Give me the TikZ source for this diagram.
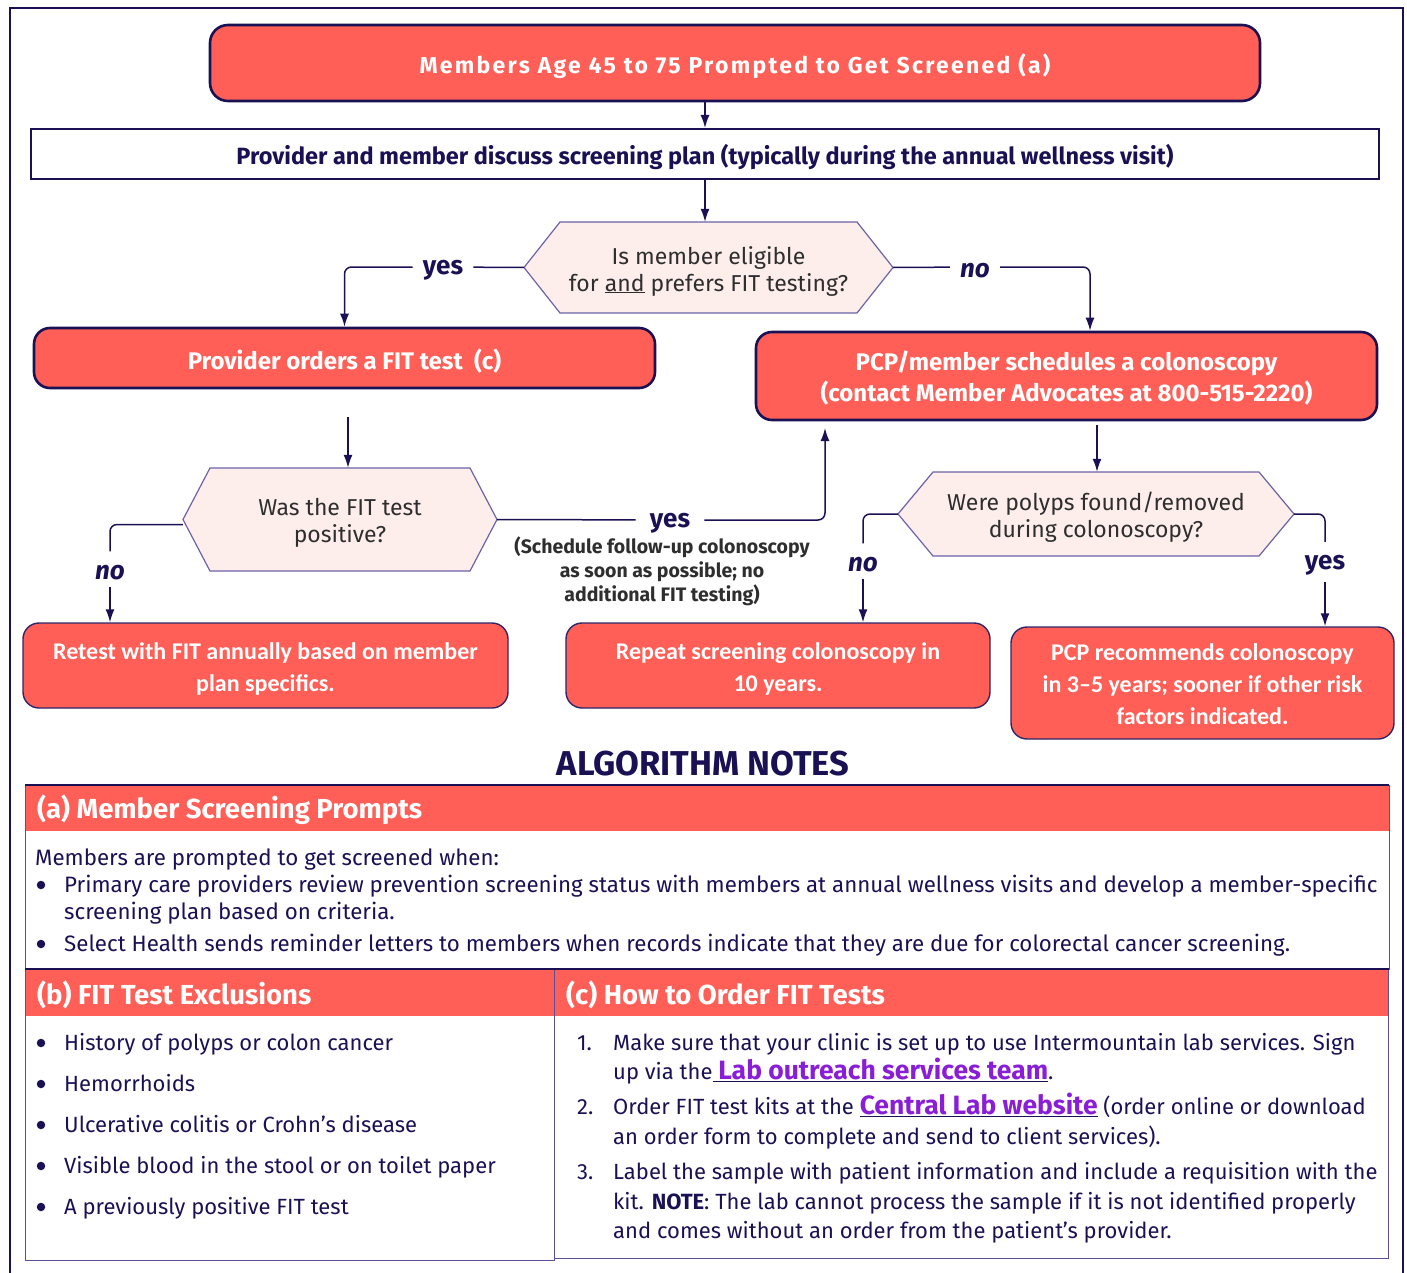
\documentclass[tikz,border=0pt]{standalone}
\usepackage{fontspec}
\setmainfont{Fira Sans}
\newfontfamily\spacedfont{Fira Sans}[LetterSpace=10]
\newfontfamily\carlito{Carlito}
\usetikzlibrary{arrows.meta,calc}
\definecolor{navy}{HTML}{1A1155}
\definecolor{cred}{HTML}{FF5F57}
\definecolor{hexfill}{HTML}{FDEEEC}
\definecolor{hexline}{HTML}{6B63A6}
\definecolor{notegray}{HTML}{2E2E2E}
\definecolor{link}{HTML}{8A1ED6}
\definecolor{rulec}{HTML}{5B4F9A}
\newcommand\lowered[1]{\raisebox{-3.5pt}[\height][\depth]{#1}}
% name, cx, cy, half width, half height, inset, text
\newcommand\hexnode[7]{%
  \draw[hexline, fill=hexfill, line width=1.2]
    (#2-#4,#3) -- (#2-#4+#6,#3-#5) -- (#2+#4-#6,#3-#5) -- (#2+#4,#3)
    -- (#2+#4-#6,#3+#5) -- (#2-#4+#6,#3+#5) -- cycle;
  \node[inner sep=0, minimum width=2*#4, minimum height=2*#5] (#1) at (#2,#3) {};
  \node[hextext, yshift=-3.5pt] (#1-t) at (#1.center) {#7};}
\begin{document}
\begin{tikzpicture}[x=1pt,y=-1pt,
  redbox/.style={draw=navy, fill=cred, rounded corners=16, line width=2.6, inner sep=0},
  lowbox/.style={draw=navy!75!hexline, fill=cred, rounded corners=16, line width=1.4, inner sep=0},
  wtext/.style={inner sep=0, align=center, text=white, yshift=-3pt},
  lowtext/.style={wtext, font=\carlito\bfseries\fontsize{24}{32}\selectfont},
  hextext/.style={inner sep=0, align=center, text=notegray, font=\fontsize{23}{27}\selectfont},
  conn/.style={draw=navy, line width=1.5},
  arr/.style={conn, -{Latex[length=13,width=9]}},
  lab/.style={font=\fontsize{26}{26}\selectfont\bfseries, text=navy, inner xsep=10, inner ysep=3},
  labi/.style={lab, font=\fontsize{26}{26}\selectfont\bfseries\itshape},
  txt/.style={anchor=base west, inner sep=0, text=navy, font=\fontsize{22}{27}\selectfont},
  txta/.style={txt, font=\fontsize{22.3}{27}\selectfont},
  dot/.style={circle, fill=navy, inner sep=0, minimum size=8.5},
  head/.style={anchor=west, inner sep=0, text=white, font=\bfseries\fontsize{27.5}{30}\selectfont}
]
\useasboundingbox (0,0) rectangle (1407,1273);
% outer frame
\draw[navy, line width=2] (10,1300) -- (10,8) -- (1403,8) -- (1403,1300);

% top box
\node[redbox, minimum width=1050, minimum height=76, rounded corners=18] (top) at (735,63) {};
\node[wtext, font=\spacedfont\bfseries\fontsize{23}{28}\selectfont] (top-t) at (top.center)
  {Members Age 45 to 75 Prompted to Get Screened (a)};
% discuss box
\node[draw=navy, line width=2, fill=white, minimum width=1348, minimum height=50, inner sep=0] (plan) at (705,154) {};
\node[wtext, text=navy, font=\bfseries\fontsize{23.5}{27}\selectfont] (plan-t) at (plan.center)
  {Provider and member discuss screening plan (typically during the annual wellness visit)};
\draw[arr] (top.south -| plan.north) -- (plan.north);

% decision 1
\hexnode{h1}{708.5}{267.5}{184.5}{45.5}{36}{Is member eligible\\for \underline{and} prefers FIT testing?}
\draw[arr] (plan.south) -- (plan.south |- h1.north);

\node[redbox, minimum width=621, minimum height=60] (b3) at (344.5,358) {};
\node[wtext, font=\bfseries\fontsize{24}{27}\selectfont] (b3-t) at (b3.center) {Provider orders a FIT test\ \ (c)};
\node[redbox, minimum width=621, minimum height=88] (b4) at (1066.5,376) {};
\node[wtext, yshift=1pt, font=\bfseries\fontsize{24}{31}\selectfont] (b4-t) at (b4.center)
  {PCP/member schedules a colonoscopy\\(contact Member Advocates at 800-515-2220)};

\node[lab] (yes1) at (443,267) {\lowered{yes}};
\node[labi] (no1) at (975,267) {\lowered{no}};
\coordinate (c4) at (1090,0);
\draw[conn] (h1.west) -- (yes1);
\draw[arr, rounded corners=7] (yes1) -| (b3.north);
\draw[conn] (h1.east) -- (no1);
\draw[arr, rounded corners=7] (no1) -| (c4 |- b4.north);

% decision 2
\hexnode{h2}{340}{519.5}{157}{51.5}{27}{Was the FIT test\\positive?}
\coordinate (s3) at (348,417);
\draw[arr] (s3) -- (s3 |- h2.north);

% decision 3
\hexnode{h3}{1096}{514}{198}{42}{35}{Were polyps found/removed\\during colonoscopy?}
\coordinate (s4) at (1097,425);
\draw[arr] (s4) -- (s4 |- h3.north);

% bottom boxes
\node[lowbox, minimum width=485, minimum height=85] (b5) at (265.5,665.5) {};
\node[lowtext] (b5-t) at (b5.center) {Retest with FIT annually based on member\\plan specifics.};
\node[lowbox, minimum width=424, minimum height=85] (b6) at (778,665.5) {};
\node[lowtext] (b6-t) at (b6.center) {Repeat screening colonoscopy in\\10 years.};
\node[lowbox, minimum width=383, minimum height=112] (b7) at (1202.5,683) {};
\node[lowtext, yshift=2pt] (b7-t) at (b7.center) {PCP recommends colonoscopy\\in 3–5 years; sooner if other risk\\factors indicated.};

% FIT positive branches
\node[labi, inner xsep=4, inner ysep=10] (no2) at (110,569) {\lowered{no}};
\draw[conn, rounded corners=7] (h2.west) ++(0,5) -| (no2);
\draw[arr] (no2) -- (no2 |- b5.north);
\node[lab, inner xsep=14] (yes2) at (670,520) {\lowered{yes}};
\coordinate (e4) at (825,428);
\draw[conn] (h2.east) -- (yes2);
\draw[arr, rounded corners=7] (yes2) -| (e4);
\node[inner sep=0, align=center, text=notegray, font=\bfseries\fontsize{19.5}{24}\selectfont] (fu) at (662,571)
  {(Schedule follow-up colonoscopy\\as soon as possible; no\\additional FIT testing)};

% polyps branches
\node[labi, inner xsep=4, inner ysep=10] (no3) at (863,561) {\lowered{no}};
\draw[conn, rounded corners=7] (h3.west) -| (no3);
\draw[arr] (no3) -- (no3 |- b6.north);
\node[lab, inner xsep=4, inner ysep=10] (yes3) at (1325,562) {\lowered{yes}};
\draw[conn, rounded corners=7] (h3.east) -| (yes3);
\draw[arr] (yes3) -- (yes3 |- b7.north);

% ===== Algorithm notes =====
\node[inner sep=0, text=navy, font=\bfseries\fontsize{34.5}{38}\selectfont] (notes) at (703,764) {ALGORITHM NOTES};

\fill[cred] (25,785) rectangle (1389,831);
\draw[rulec, line width=1] (25,785) rectangle (1389,969);
\fill[cred] (25,969) rectangle (1389,1016);
\draw[rulec, line width=1] (25,969) rectangle (554,1260);
\draw[rulec, line width=1] (554,969) rectangle (1388,1258);
\draw[navy, line width=2] (25,785) -- (1389,785);
\draw[navy, line width=2] (25,969) -- (1389,969);

\node[head] (ha) at (37,810) {(a) Member Screening Prompts};
\node[head] (hb) at (37,995) {(b) FIT Test Exclusions};
\node[head] (hc) at (566,995) {(c) How to Order FIT Tests};

% (a) body
\node[txta] (a0) at (35,865) {Members are prompted to get screened when:};
\node[dot] (a1b) at (41,885) {};
\node[txta] (a1) at (64,892) {Primary care providers review prevention screening status with members at annual wellness visits and develop a member-specific};
\node[txta] (a2) at (64,919) {screening plan based on criteria.};
\node[dot] (a3b) at (41,944) {};
\node[txta] (a3) at (64,951) {Select Health sends reminder letters to members when records indicate that they are due for colorectal cancer screening.};

% (b) body
\foreach \yy/\tt [count=\i] in {1050/History of polyps or colon cancer, 1091/Hemorrhoids,
   1132/Ulcerative colitis or Crohn’s disease, 1173/Visible blood in the stool or on toilet paper,
   1214/A previously positive FIT test}{
  \node[dot] (bb\i) at (41,\yy-7) {};
  \node[txt] (bt\i) at (64,\yy) {\tt};
}

% (c) body
\node[txt] (n1) at (577,1050) {1.};
\node[txt] (c1a) at (613,1050) {Make sure that your clinic is set up to use Intermountain lab services. Sign};
\node[txt] (c1b) at (613,1079) {up via the\underline{ \textcolor{link}{\bfseries\fontsize{26.5}{27}\selectfont Lab outreach services team}}.};
\node[txt] (n2) at (577,1114) {2.};
\node[txt] (c2a) at (613,1114) {Order FIT test kits at the \underline{\textcolor{link}{\bfseries\fontsize{26.5}{27}\selectfont Central Lab website}} (order online or download};
\node[txt] (c2b) at (613,1144) {an order form to complete and send to client services).};
\node[txt] (n3) at (577,1179) {3.};
\node[txt] (c3a) at (613,1179) {Label the sample with patient information and include a requisition with the};
\node[txt] (c3b) at (613,1209) {kit. \textbf{NOTE}: The lab cannot process the sample if it is not identified properly};
\node[txt] (c3c) at (613,1238) {and comes without an order from the patient’s provider.};
\end{tikzpicture}
\end{document}
